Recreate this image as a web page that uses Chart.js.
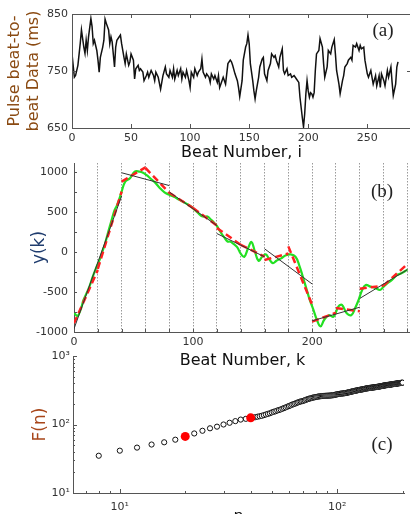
<!DOCTYPE html>
<html>
<head>
<meta charset="utf-8">
<script src="https://cdn.jsdelivr.net/npm/chart.js@4.4.1/dist/chart.umd.min.js"></script>
<style>
html, body { margin: 0; padding: 0; background: #fff; width: 410px; height: 514px; overflow: hidden; }
canvas { position: absolute; left: 0; }
#ca { top: 0; }
#cb { top: 150px; }
#cc { top: 340px; }
</style>
</head>
<body>
<canvas id="ca" width="412" height="165"></canvas>
<canvas id="cb" width="412" height="220"></canvas>
<canvas id="cc" width="412" height="190"></canvas>
<script>
// (a) pulse beat-to-beat series
const beatI = [0,2,3,5,7,8,10,11,12,13,14,16,17,18,19,21,22,23,24,26,27,28,29,31,32,33,34,36,37,38,40,41,42,44,45,46,48,49,50,52,53,54,56,57,58,60,61,63,64,65,67,69,70,71,73,75,76,77,79,80,82,83,85,86,87,89,90,92,93,94,96,97,99,100,101,103,104,106,107,109,110,111,113,114,116,117,118,120,121,123,124,125,127,128,130,131,132,134,135,136,138,140,141,142,144,145,147,148,149,150,151,153,154,155,156,158,159,161,162,163,165,166,168,169,171,172,173,175,176,178,179,180,182,183,185,186,188,189,190,192,193,195,196,197,198,199,200,201,202,203,204,205,206,207,209,210,212,213,214,216,217,219,220,222,223,224,226,227,229,230,231,233,234,236,237,238,240,241,243,244,245,247,248,250,251,253,254,255,257,258,260,261,262,264,265,267,268,270,271,272,274,275,276];
const beatMs = [780,739,742,760,799,822,792,781,804,786,810,842,828,798,804,786,769,748,774,792,804,841,834,822,798,810,801,757,792,804,810,813,798,774,763,780,760,766,780,769,736,754,760,751,754,748,733,742,748,739,751,742,733,748,739,718,730,742,757,745,739,751,739,754,736,751,742,754,736,748,739,751,733,721,748,739,754,742,748,754,771,748,739,745,739,730,745,736,742,730,742,721,733,739,727,745,763,769,766,760,745,733,721,705,733,769,792,798,813,798,763,733,715,701,715,739,757,771,774,745,733,751,763,780,774,777,769,757,774,789,751,745,754,742,745,739,742,739,736,730,704,668,652,675,710,733,715,704,712,710,704,712,751,780,786,807,792,763,739,757,786,780,792,805,780,751,727,710,733,742,757,763,769,774,769,795,792,798,786,795,789,792,769,745,739,751,739,727,742,724,742,721,745,733,724,751,739,757,730,707,727,757,766];

// (b) integrated profile y(k) and local fits
const profK = [0,3,6,8,11,13,16,19,22,24,26,28,30,32,34,36,38,40,43,47,51,55,58,61,64,68,72,76,80,84,88,92,96,100,104,107,110,112,115,118,120,123,126,129,131,134,137,140,143,146,149,152,155,158,161,164,167,170,174,178,182,186,189,192,195,198,201,204,207,210,214,218,222,225,229,233,236,239,242,245,249,253,257,260,263,267,271,275,280];
const profY = [-760,-800,-700,-600,-500,-430,-300,-183,-80,15,100,210,317,420,520,580,660,754,879,921,1004,1004,990,960,921,870,800,745,715,690,655,625,590,546,490,450,440,445,405,360,325,250,185,130,130,100,60,-20,-60,40,125,0,-110,-60,-30,-90,-140,-110,-80,-40,-30,-60,-160,-300,-450,-600,-720,-850,-930,-850,-790,-808,-683,-662,-767,-787,-704,-600,-475,-412,-433,-450,-475,-433,-392,-350,-290,-267,-220];
const box20Start = [0,20,40,60,80,100,120,140,160,180,200,220,240,260];
const fit20From = [-892,-210,879,1050,740,550,300,90,-100,70,-870,-700,-460,-420];
const fit20To = [-225,754,1058,740,550,330,90,-58,-20,-660,-760,-740,-420,-150];
const box40Start = [0,40,80,120,160,200,240];
const fit40From = [-960,990,750,230,40,-860,-580];
const fit40To = [700,830,330,-60,-400,-690,-220];

// (c) fluctuation function F(n)
const nVals = [8,10,12,14,16,18,20,22,24,26,28,30,32,34,36,38,
    40,41,42,43,44,45,46,47,48,49,50,51,52,53,54,55,56,57,58,59,60,61,62,63,64,65,66,67,68,69,70,71,72,73,74,75,76,77,78,79,
    80,81,82,83,84,85,86,87,88,89,90,91,92,93,94,95,96,97,98,99,100,101,102,103,104,105,106,107,108,109,110,111,112,113,114,115,116,117,118,119,
    120,121,122,123,124,125,126,127,128,129,130,131,132,133,134,135,136,137,138,139,140,141,142,143,144,145,146,147,148,149,150,151,152,153,154,155,156,157,158,159,
    160,161,162,163,164,165,166,167,168,169,170,171,172,173,174,175,176,177,178,179,180,181,182,183,184,185,186,187,188,189,190,191,192,193,194,195,196,197,198,199,200];
const fVals = [35,41.5,46,51,55,60,67,74,81,88,93,100,106,112,118,121,
    125,126,128,130,132,134,137,140,143,146,150,153,156,160,163,166,170,174,178,182,186,190,195,198,202,206,210,214,217,219,222,226,230,234,237,240,243,246,248,250,
    252,254,256,258,259,260,261,262,262,263,263,264,264,265,266,267,268,270,272,274,276,278,279,281,282,283,284,285,286,288,289,291,293,295,297,299,301,303,305,307,
    309,311,312,314,316,318,319,321,322,324,325,327,328,330,332,334,335,337,338,339,340,342,343,344,345,346,347,348,349,350,351,352,353,355,356,357,358,360,361,363,
    364,366,367,369,370,371,372,374,375,376,377,378,379,380,381,382,383,384,385,387,388,389,390,391,392,393,394,395,396,397,398,399,400,401,402,403,404,405,406,407,408];
const markN = [20, 40];
const markF = [67, 125];

Chart.defaults.font.family = "'DejaVu Sans', Verdana, sans-serif";
Chart.defaults.color = '#333';
Chart.defaults.animation = false;
Chart.defaults.plugins.legend.display = false;
Chart.defaults.plugins.tooltip.enabled = false;

const tickFont = { size: 11 };
const titleFont = { size: 16 };

function tickLen(scale, v, o) {
    if (scale.type !== 'logarithmic') return o.len;
    const e = Math.floor(Math.log10(v) + 1e-9);
    const m = v / Math.pow(10, e);
    if (Math.abs(m - 1) < 1e-6) return o.len;
    if (Math.abs(m - Math.round(m)) < 1e-6) return o.minor;
    return 0;
}

// inward tick marks (and optional frame)
const frameTicks = {
    id: 'frameTicks',
    afterDraw(chart, args, o) {
        const { ctx, chartArea: a } = chart;
        const sx = chart.scales.x, sy = chart.scales.y;
        ctx.save();
        ctx.strokeStyle = o.color;
        ctx.lineWidth = 1;
        if (o.frame) ctx.strokeRect(a.left + 0.5, a.top + 0.5, a.right - a.left, a.bottom - a.top);
        ctx.beginPath();
        sx.ticks.forEach(t => {
            const len = tickLen(sx, t.value, o);
            if (!len) return;
            const px = Math.round(sx.getPixelForValue(t.value)) + 0.5;
            ctx.moveTo(px, a.bottom); ctx.lineTo(px, a.bottom - len);
            if (o.frame) { ctx.moveTo(px, a.top); ctx.lineTo(px, a.top + len); }
        });
        sy.ticks.forEach(t => {
            const len = tickLen(sy, t.value, o);
            if (!len) return;
            const py = Math.round(sy.getPixelForValue(t.value)) + 0.5;
            ctx.moveTo(a.left, py); ctx.lineTo(a.left + len, py);
            if (o.frame) { ctx.moveTo(a.right, py); ctx.lineTo(a.right - len, py); }
        });
        ctx.stroke();
        ctx.restore();
    }
};

// panel letter (a)/(b)/(c)
const panelTag = {
    id: 'panelTag',
    afterDraw(chart, args, o) {
        const { ctx, chartArea: a } = chart;
        ctx.save();
        ctx.font = '19px "Liberation Serif", serif';
        ctx.fillStyle = '#222';
        ctx.textAlign = 'center';
        ctx.textBaseline = 'middle';
        ctx.fillText(o.text, a.right + o.dx, (o.fromBottom ? a.bottom : a.top) + o.dy);
        ctx.restore();
    }
};

function sup(v, list) {
    for (const [val, txt] of list) if (Math.abs(v - val) < 1e-6) return txt;
    return '';
}

// ---------- (a) ----------
new Chart(document.getElementById('ca'), {
    type: 'line',
    data: {
        datasets: [{
            data: beatI.map((x, k) => ({ x: x, y: beatMs[k] })),
            borderColor: '#111',
            borderWidth: 1.5,
            pointRadius: 0,
            tension: 0
        }]
    },
    options: {
        responsive: false,
        layout: { padding: { top: 14, right: 1, left: 0, bottom: 0 } },
        scales: {
            x: {
                type: 'linear', min: 0, max: 287,
                afterFit: s => { s.height = 37; },
                ticks: { stepSize: 50, includeBounds: false, padding: 4, font: tickFont, maxRotation: 0 },
                grid: { display: false, drawTicks: false },
                border: { display: true, color: '#555' },
                title: { display: true, text: 'Beat Number, i', font: titleFont, color: '#111', padding: { top: 0, bottom: 3 } }
            },
            y: {
                min: 650, max: 850,
                afterFit: s => { s.width = 72; },
                ticks: { stepSize: 100, padding: 4, font: tickFont },
                grid: { display: false, drawTicks: false },
                border: { display: true, color: '#555' },
                title: { display: true, text: ['Pulse beat-to-', 'beat Data (ms)'], font: titleFont, color: '#8a4a12', padding: { top: 5, bottom: 0 } }
            }
        },
        plugins: {
            frameTicks: { len: 4, minor: 2, frame: true, color: '#555' },
            panelTag: { text: '(a)', dx: -28, dy: 17 }
        }
    },
    plugins: [frameTicks, panelTag]
});

// ---------- (b) ----------
const blackSets = box40Start.map((k0, i) => ({
    data: [{ x: k0, y: fit40From[i] }, { x: k0 + 40, y: fit40To[i] }],
    borderColor: '#333', borderWidth: 1, pointRadius: 0
}));
const redSets = box20Start.map((k0, i) => ({
    data: [{ x: k0, y: fit20From[i] }, { x: k0 + 20, y: fit20To[i] }],
    borderColor: '#ff2020', borderWidth: 2.5, borderDash: [7, 4], pointRadius: 0
}));
const greenSet = {
    data: profK.map((x, i) => ({ x: x, y: profY[i] })),
    borderColor: '#22e022', borderWidth: 2.2, pointRadius: 0, tension: 0.4
};

new Chart(document.getElementById('cb'), {
    type: 'line',
    data: { datasets: [...blackSets, ...redSets, greenSet] },
    options: {
        responsive: false,
        layout: { padding: { top: 13, right: 1, left: 0, bottom: 0 } },
        scales: {
            x: {
                type: 'linear', min: 0, max: 283,
                afterFit: s => { s.height = 38; },
                ticks: {
                    stepSize: 20, includeBounds: false, autoSkip: false, padding: 4, font: tickFont, maxRotation: 0,
                    callback: v => (v % 100 === 0 ? String(v) : '')
                },
                grid: { display: true, drawOnChartArea: true, drawTicks: false, color: '#9a9a9a', lineWidth: 1 },
                border: { display: true, color: '#555', dash: [1.5, 1.5] },
                title: { display: true, text: 'Beat Number, k', font: titleFont, color: '#111', padding: { top: 0, bottom: 0 } }
            },
            y: {
                min: -1000, max: 1112,
                afterFit: s => { s.width = 74; },
                ticks: {
                    stepSize: 250, includeBounds: false, padding: 6, font: tickFont,
                    callback: v => (v % 500 === 0 ? String(v) : '')
                },
                grid: { display: false, drawTicks: false },
                border: { display: true, color: '#555' },
                title: { display: true, text: 'y(k)', font: { size: 17 }, color: '#1f3c6e', padding: { top: 29, bottom: 0 } }
            }
        },
        plugins: {
            frameTicks: { len: 3, minor: 2, frame: false, color: '#555' },
            panelTag: { text: '(b)', dx: -29, dy: 29 }
        }
    },
    plugins: [frameTicks, panelTag]
});

// ---------- (c) ----------
new Chart(document.getElementById('cc'), {
    type: 'scatter',
    data: {
        datasets: [
            {
                data: markN.map((x, i) => ({ x: x, y: markF[i] })),
                pointRadius: 4.5, backgroundColor: '#ff0000', borderWidth: 0
            },
            {
                data: nVals.map((x, i) => ({ x: x, y: fVals[i] })),
                pointRadius: 2.6, backgroundColor: '#fff', borderColor: '#111', borderWidth: 1
            }
        ]
    },
    options: {
        responsive: false,
        layout: { padding: { top: 16, right: 7, left: 0, bottom: 0 } },
        scales: {
            x: {
                type: 'logarithmic', min: 6.09, max: 203,
                afterFit: s => { s.height = 37; },
                ticks: {
                    autoSkip: false, padding: 8, font: tickFont, maxRotation: 0,
                    callback: v => sup(v, [[10, '10¹'], [100, '10²']])
                },
                grid: { display: false, drawTicks: false },
                border: { display: true, color: '#555' },
                title: { display: true, text: 'n', font: titleFont, color: '#111', padding: { top: 0, bottom: 4 } }
            },
            y: {
                type: 'logarithmic', min: 10, max: 1000,
                afterFit: s => { s.width = 73; },
                ticks: {
                    autoSkip: false, padding: 3, font: tickFont,
                    callback: v => sup(v, [[10, '10¹'], [100, '10²'], [1000, '10³']])
                },
                grid: { display: false, drawTicks: false },
                border: { display: true, color: '#555' },
                title: { display: true, text: 'F(n)', font: { size: 17 }, color: '#a8461a', padding: { top: 30, bottom: 0 } }
            }
        },
        plugins: {
            frameTicks: { len: 4, minor: 2, frame: false, color: '#555' },
            panelTag: { text: '(c)', dx: -22, dy: -48, fromBottom: true }
        }
    },
    plugins: [frameTicks, panelTag]
});
</script>
</body>
</html>
